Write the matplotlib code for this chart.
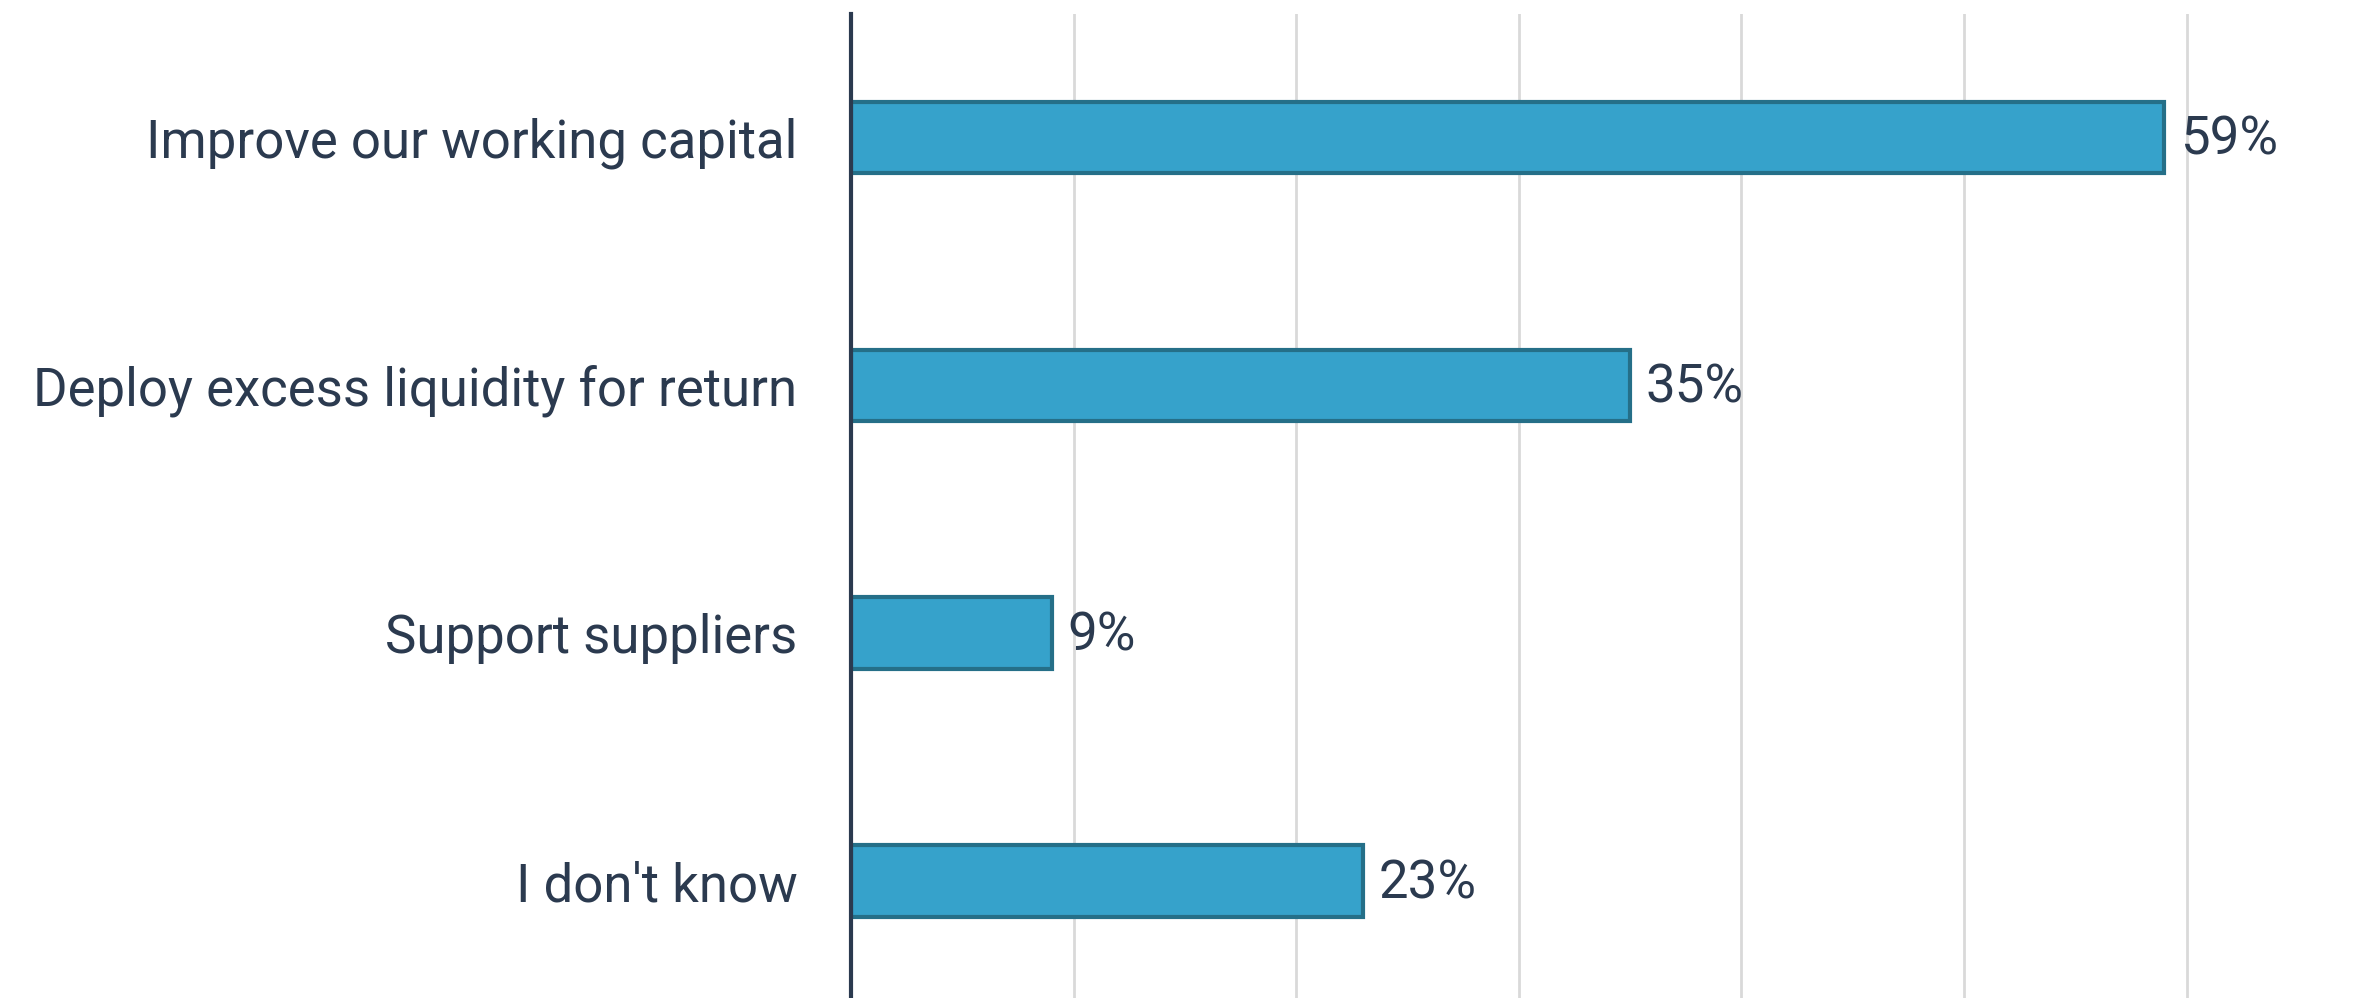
import matplotlib
matplotlib.use("Agg")
import matplotlib.pyplot as plt

categories = ["Improve our working capital", "Deploy excess liquidity for return",
              "Support suppliers", "I don't know"]
values = [59, 35, 9, 23]
value_labels = ["59%", "35%", "9%", "23%"]

plt.rcParams['font.family'] = ['Roboto', 'DejaVu Sans']
text_color = "#2b3a4f"

fig = plt.figure(figsize=(23.77, 9.98), dpi=100)
ax = fig.add_axes([0.3582, 0.0, 0.6418, 0.986])

ypos = list(range(len(categories)))
ax.barh(ypos, values, height=0.29, color="#36a2cb", edgecolor="#256f88",
        linewidth=3, zorder=3)
for y, v, lab in zip(ypos, values, value_labels):
    ax.annotate(lab, (v, y), xytext=(11, -2), textcoords="offset points",
                va="center", ha="left", fontsize=38, color=text_color)

ax.set_xticks(range(0, 71, 10))
ax.set_xticklabels([])
ax.set_xlim(0, 68.56)
ax.tick_params(axis="x", length=0)
ax.set_yticks(ypos)
ax.set_yticklabels(categories, fontsize=38, color=text_color)
ax.set_ylim(3.47, -0.498)
ax.tick_params(axis="y", length=0, pad=39)
ax.grid(axis="x", color="#d9d9d9", linewidth=2, zorder=0)
for s in ["top", "right", "bottom"]:
    ax.spines[s].set_visible(False)
ax.spines["left"].set_color(text_color)
ax.spines["left"].set_linewidth(3)
ax.spines["left"].set_zorder(4)

fig.savefig("out.png", dpi=100, facecolor="white")
